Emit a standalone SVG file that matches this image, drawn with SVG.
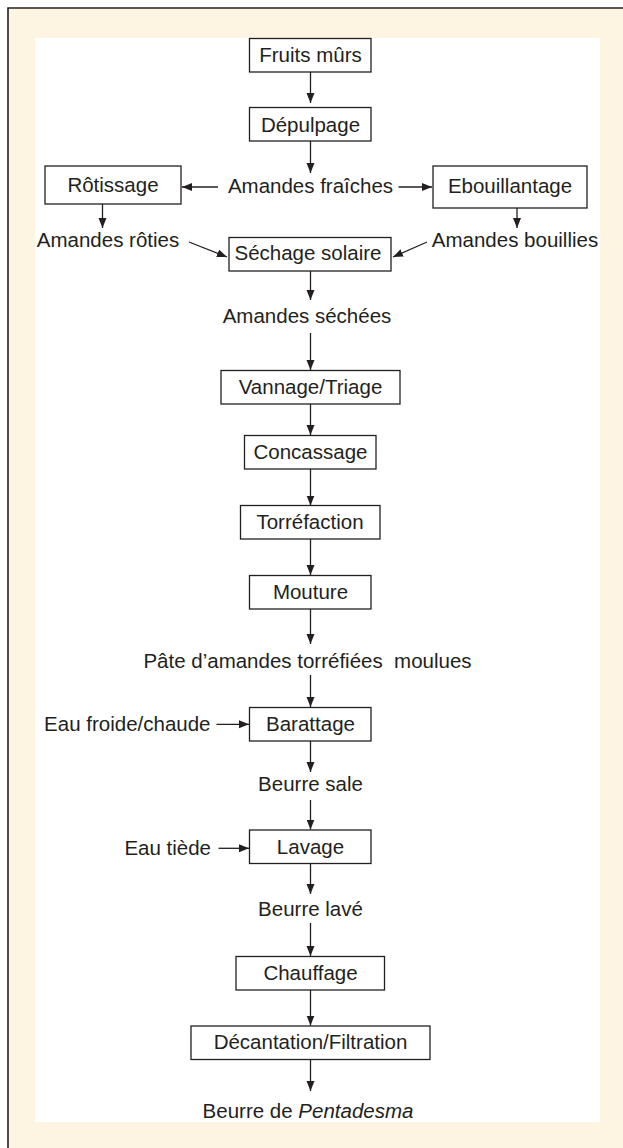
<svg xmlns="http://www.w3.org/2000/svg" width="623" height="1148" viewBox="0 0 623 1148">
<style>
.box{fill:#fff;stroke:#231f20;stroke-width:1.3}
.t{font-family:"Liberation Sans",Arial,sans-serif;font-size:20.5px;fill:#231f20;text-anchor:middle}
.e{text-anchor:end}
.c{stroke:#231f20;stroke-width:1.3;fill:none;marker-end:url(#ah)}
</style>
<defs>
<marker id="ah" markerUnits="userSpaceOnUse" markerWidth="11" markerHeight="9" refX="10" refY="4" orient="auto">
<path d="M0,0 L10,4 L0,8 z" fill="#231f20"/>
</marker>
</defs>
<rect x="0" y="0" width="623" height="1148" fill="#fff"/>
<rect x="8" y="8" width="615" height="1140" fill="#fdf5e1"/>
<path d="M8,1148 V8 H623" fill="none" stroke="#231f20" stroke-width="1.6"/>
<rect x="35" y="38" width="565" height="1084" fill="#fff"/>

<g id="connectors">
<line class="c" x1="310.5" y1="72" x2="310.5" y2="103"/>
<line class="c" x1="310.5" y1="141" x2="310.5" y2="173"/>
<line class="c" x1="218" y1="187" x2="182" y2="187"/>
<line class="c" x1="398.5" y1="187" x2="432" y2="187"/>
<line class="c" x1="102.5" y1="204" x2="102.5" y2="228"/>
<line class="c" x1="517" y1="208" x2="517" y2="228"/>
<line class="c" x1="189" y1="242" x2="227" y2="257"/>
<line class="c" x1="427" y1="242" x2="393" y2="257"/>
<line class="c" x1="310.5" y1="271" x2="310.5" y2="300"/>
<line class="c" x1="310.5" y1="333" x2="310.5" y2="370"/>
<line class="c" x1="310.5" y1="404" x2="310.5" y2="435"/>
<line class="c" x1="310.5" y1="469" x2="310.5" y2="505.5"/>
<line class="c" x1="310.5" y1="539" x2="310.5" y2="575"/>
<line class="c" x1="310.5" y1="609" x2="310.5" y2="644"/>
<line class="c" x1="310.5" y1="675" x2="310.5" y2="707"/>
<line class="c" x1="216.5" y1="724.3" x2="249" y2="724.3"/>
<line class="c" x1="310.5" y1="741" x2="310.5" y2="772"/>
<line class="c" x1="310.5" y1="800" x2="310.5" y2="829.5"/>
<line class="c" x1="218.5" y1="848.3" x2="249" y2="848.3"/>
<line class="c" x1="310.5" y1="863" x2="310.5" y2="894"/>
<line class="c" x1="310.5" y1="923" x2="310.5" y2="956"/>
<line class="c" x1="310.5" y1="990" x2="310.5" y2="1025.5"/>
<line class="c" x1="310.5" y1="1060" x2="310.5" y2="1091"/>
</g>

<g id="fruits"><rect class="box" x="249.5" y="38.5" width="121.5" height="33.5"/><text class="t" x="310.5" y="62">Fruits mûrs</text></g>
<g id="depulpage"><rect class="box" x="249.5" y="107.5" width="121.5" height="33.5"/><text class="t" x="310.5" y="132">Dépulpage</text></g>
<g id="amandes-fraiches"><text class="t" x="310.5" y="193">Amandes fraîches</text></g>
<g id="rotissage"><rect class="box" x="45" y="166" width="136" height="38"/><text class="t" x="113" y="192">Rôtissage</text></g>
<g id="ebouillantage"><rect class="box" x="433" y="166" width="154" height="42"/><text class="t" x="510" y="193">Ebouillantage</text></g>
<g id="amandes-roties"><text class="t" x="108" y="247">Amandes rôties</text></g>
<g id="amandes-bouillies"><text class="t" x="515" y="247">Amandes bouillies</text></g>
<g id="sechage"><rect class="box" x="229" y="237.5" width="162" height="33.5"/><text class="t" x="308" y="259.5">Séchage solaire</text></g>
<g id="amandes-sechees"><text class="t" x="307" y="323">Amandes séchées</text></g>
<g id="vannage"><rect class="box" x="221" y="370.5" width="179" height="33.5"/><text class="t" x="310.5" y="393.5">Vannage/Triage</text></g>
<g id="concassage"><rect class="box" x="244.5" y="435.5" width="131.5" height="33.5"/><text class="t" x="310.5" y="458.5">Concassage</text></g>
<g id="torrefaction"><rect class="box" x="240.5" y="505.5" width="139.5" height="33.5"/><text class="t" x="310" y="528.5">Torréfaction</text></g>
<g id="mouture"><rect class="box" x="249.5" y="575.5" width="121.5" height="33.5"/><text class="t" x="310.5" y="599">Mouture</text></g>
<g id="pate"><text class="t" x="307.5" y="667.5" xml:space="preserve">Pâte d’amandes torréfiées  moulues</text></g>
<g id="barattage"><rect class="box" x="249.5" y="707.5" width="121.5" height="33.5"/><text class="t" x="310.5" y="731">Barattage</text></g>
<g id="eau-froide"><text class="t e" x="210.5" y="731">Eau froide/chaude</text></g>
<g id="beurre-sale"><text class="t" x="310.5" y="791">Beurre sale</text></g>
<g id="lavage"><rect class="box" x="249.5" y="830" width="121.5" height="33.5"/><text class="t" x="310.5" y="854">Lavage</text></g>
<g id="eau-tiede"><text class="t e" x="211" y="855">Eau tiède</text></g>
<g id="beurre-lave"><text class="t" x="310.5" y="916">Beurre lavé</text></g>
<g id="chauffage"><rect class="box" x="236" y="956.5" width="148.5" height="33.5"/><text class="t" x="310.5" y="980">Chauffage</text></g>
<g id="decantation"><rect class="box" x="191" y="1026" width="239" height="33.5"/><text class="t" x="310.5" y="1049">Décantation/Filtration</text></g>
<g id="beurre-final"><text class="t" x="308" y="1118">Beurre de <tspan font-style="italic">Pentadesma</tspan></text></g>
</svg>
